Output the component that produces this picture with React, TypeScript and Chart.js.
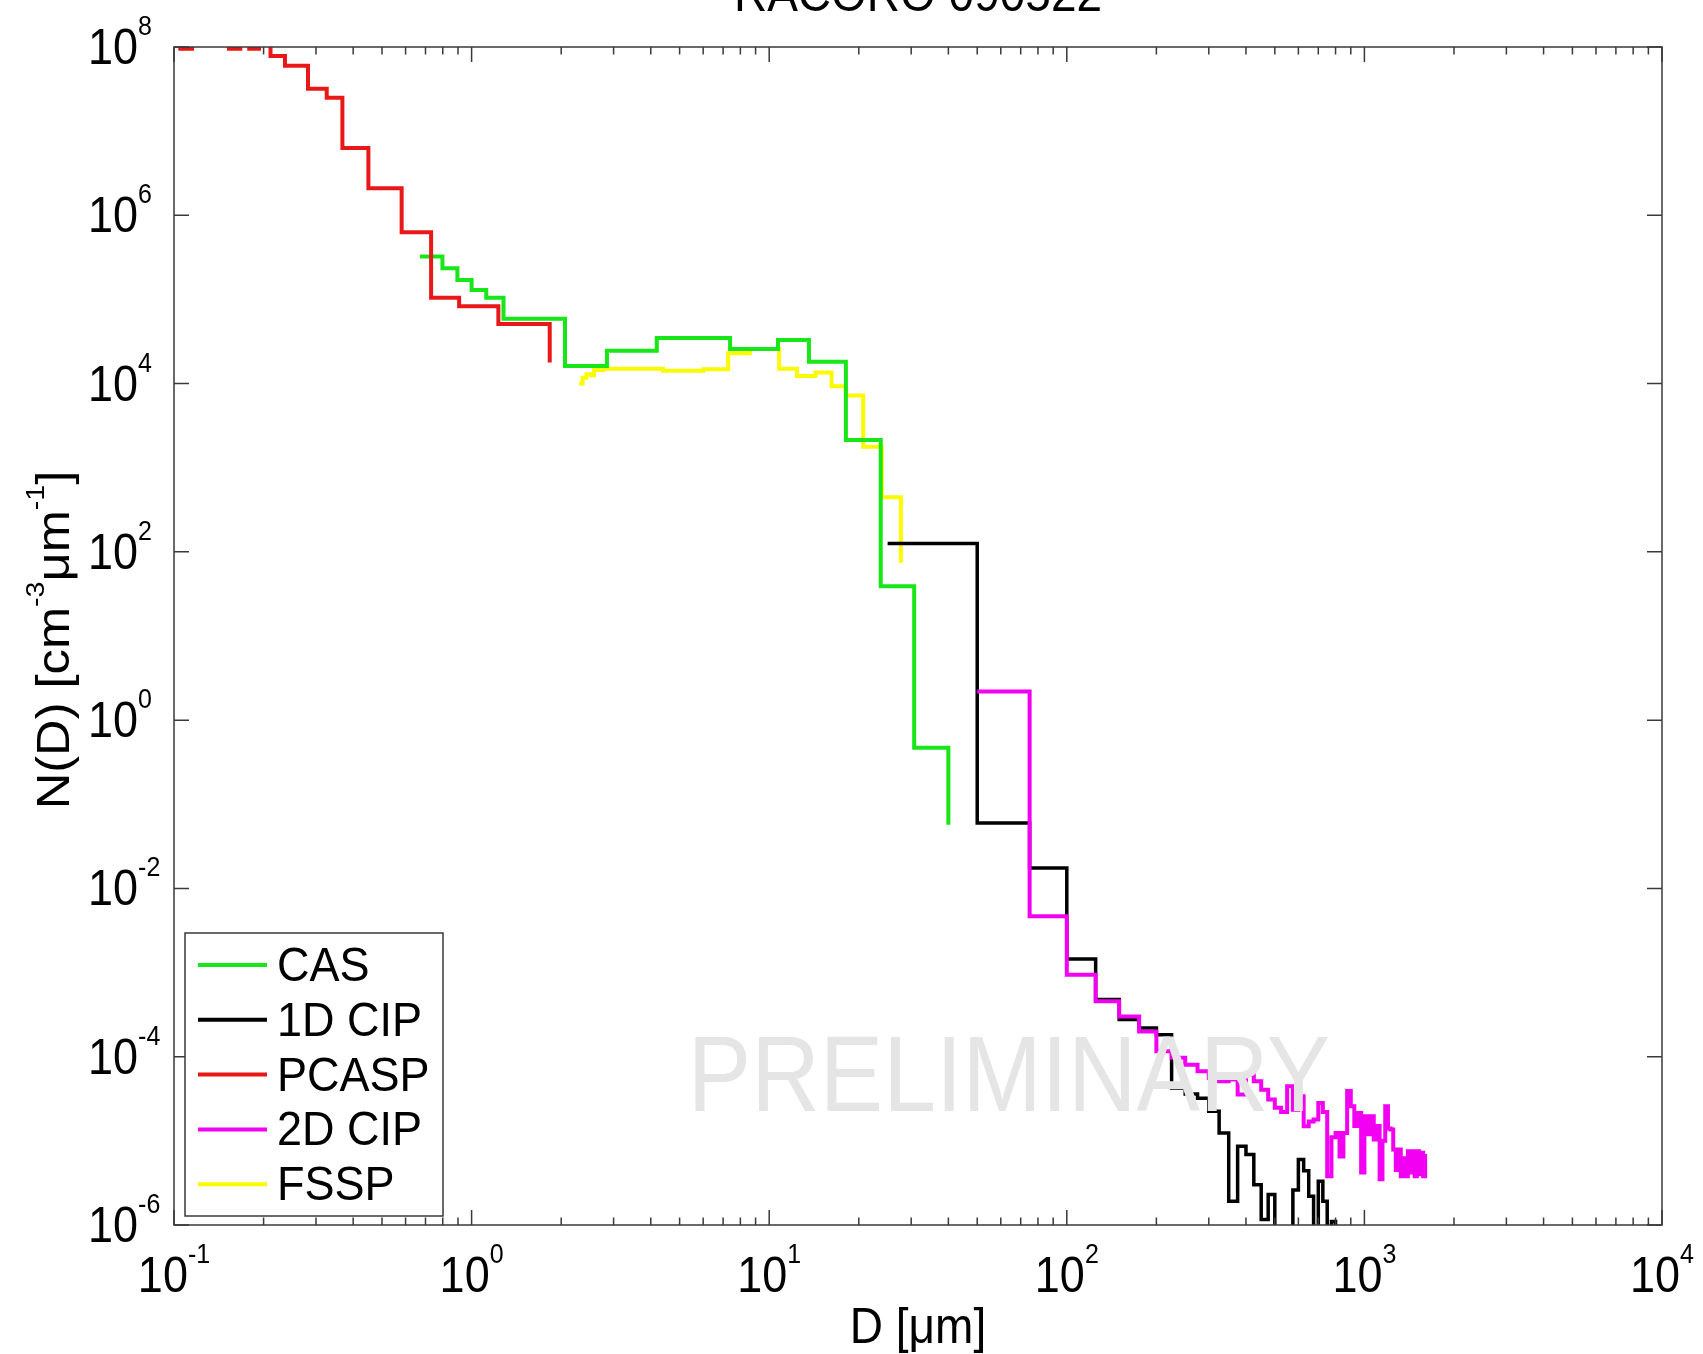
import React, { useEffect, useRef } from 'react';
import { Chart, registerables } from 'chart.js';

Chart.register(...registerables);

const W = 1703;
const H = 1354;
const FONT = '"Liberation Sans", Arial, Helvetica, sans-serif';

const TITLE = 'RACORO 090522';
const X_LABEL = 'D [\u03bcm]';

// PCASP (red)
const pcaspD = [0.1, 0.105, 0.115, 0.153, 0.167, 0.179, 0.193, 0.211, 0.236, 0.282, 0.326, 0.368, 0.45, 0.582, 0.731, 0.908, 1.23, 1.83];
const pcaspN = [1.3e8, 0.95e8, 1.3e8, 0.95e8, 1.2e8, 0.95e8, 1.1e8, 7.8e7, 6.0e7, 3.2e7, 2.5e7, 6.3e6, 2.1e6, 6.3e5, 1.05e5, 8.3e4, 5.1e4, 1.78e4];

// CAS (green)
const casD = [0.671, 0.798, 0.896, 1.0, 1.12, 1.28, 2.06, 2.85, 4.19, 7.39, 10.7, 13.6, 18.1, 23.7, 30.7, 40.0];
const casN = [3.24e5, 2.34e5, 1.7e5, 1.29e5, 1.05e5, 5.9e4, 1.62e4, 2.45e4, 3.47e4, 2.57e4, 3.3e4, 1.82e4, 2.14e3, 39, 0.47, 0.057];

// FSSP (yellow)
const fsspD = [2.3, 2.36, 2.43, 2.52, 2.58, 2.77, 4.4, 6.0, 7.28, 8.61, 10.8, 12.4, 14.3, 16.2, 18.1, 20.7, 23.9, 27.7];
const fsspN = [1.0e4, 1.17e4, 1.29e4, 1.26e4, 1.45e4, 1.5e4, 1.42e4, 1.48e4, 2.3e4, 2.57e4, 1.5e4, 1.23e4, 1.35e4, 9.3e3, 7.2e3, 1.78e3, 446, 74];

// 1D CIP (black)
const cip1D = [25, 50, 75, 100, 125, 150, 175, 200, 225, 250, 275, 300, 325, 350, 375, 400, 425, 450, 475, 500, 525, 550, 575, 600, 625, 650, 675, 700, 725, 750, 775, 800, 825];
const cip1N = [126, 0.06, 0.0175, 1.45e-3, 4.8e-4, 2.76e-4, 2.2e-4, 1.83e-4, 4.25e-5, 3.6e-5, 3.2e-5, 2.25e-5, 1.24e-5, 1.92e-6, 8.6e-6, 6.9e-6, 3.0e-6, 1.16e-6, 2.3e-6, 0.9e-6, 0.7e-6, 0.8e-6, 2.6e-6, 6.0e-6, 4.4e-6, 2.2e-6, 0.8e-6, 3.3e-6, 1.92e-6, 0.9e-6, 1.1e-6, 0.95e-6, 0.9e-6];

// 2D CIP (magenta)
const cip2D = [50, 75, 100, 125, 150, 175, 200, 225, 250, 275, 300, 325, 350, 375, 400, 425, 450, 475, 500, 525, 550, 575, 600, 625, 650, 675, 700, 725, 750, 775, 800, 825, 850, 875, 900, 925, 950, 975, 1000, 1025, 1050, 1075, 1100, 1125, 1150, 1175, 1200, 1225, 1250, 1275, 1300, 1325, 1350, 1375, 1400, 1425, 1450, 1475, 1500, 1525, 1550, 1575, 1600];
const cip2N = [2.19, 4.66e-3, 9.4e-4, 4.55e-4, 3.0e-4, 2.0e-4, 1.16e-4, 9.7e-5, 8.05e-5, 6.7e-5, 5.6e-5, 5.1e-5, 5.35e-5, 3.55e-5, 6.1e-5, 5.1e-5, 4.06e-5, 3.1e-5, 2.47e-5, 2.2e-5, 4.45e-5, 2.35e-5, 3.4e-5, 1.49e-5, 1.7e-5, 1.79e-5, 2.82e-5, 2.2e-5, 3.8e-6, 1.1e-5, 1.24e-5, 6.5e-6, 1.24e-5, 3.9e-5, 2.58e-5, 1.5e-5, 2.15e-5, 4.2e-6, 1.96e-5, 1.2e-5, 1.96e-5, 1.04e-5, 1.5e-5, 3.5e-6, 1.0e-5, 2.58e-5, 1.4e-5, 1.36e-5, 7.9e-6, 4.5e-6, 7.9e-6, 3.8e-6, 6.2e-6, 3.8e-6, 7.5e-6, 4.2e-6, 7.5e-6, 3.8e-6, 7.5e-6, 4.0e-6, 7.2e-6, 3.8e-6, 7.0e-6];

const xTickExps = [-1, 0, 1, 2, 3, 4];
const yTickExps = [-6, -4, -2, 0, 2, 4, 6, 8];

const legendLabels = ['CAS', '1D CIP', 'PCASP', '2D CIP', 'FSSP'];
const COLORS: Record<string, string> = {
  CAS: '#18e618',
  '1D CIP': '#000000',
  PCASP: '#e81818',
  '2D CIP': '#f200f2',
  FSSP: '#fafa00',
};

function drawText(ctx: CanvasRenderingContext2D, s: string, x: number, y: number, size: number, align: CanvasTextAlign, sy: number) {
  ctx.save();
  ctx.translate(x, y);
  ctx.scale(1, sy);
  ctx.font = `${size}px ${FONT}`;
  ctx.textAlign = align;
  ctx.textBaseline = 'alphabetic';
  ctx.fillText(s, 0, 0);
  ctx.restore();
}

function textWidth(ctx: CanvasRenderingContext2D, s: string, size: number) {
  ctx.save();
  ctx.font = `${size}px ${FONT}`;
  const w = ctx.measureText(s).width;
  ctx.restore();
  return w;
}

const AXIS_COLOR = '#3a3a3a';
const TICK_FS = 45;
const SUP_FS = 25;
const SY = 1.1;

const decor = {
  id: 'decor',
  afterDraw(chart: any) {
    const ctx: CanvasRenderingContext2D = chart.ctx;
    const a = chart.chartArea;
    const xs = chart.scales.x;
    const ys = chart.scales.y;

    // watermark over the data
    ctx.save();
    ctx.fillStyle = 'rgb(229,229,229)';
    drawText(ctx, 'PRELIMINARY', 1009, 1111, 95, 'center', 1.13);
    ctx.restore();

    // axes box and inward ticks
    ctx.save();
    ctx.strokeStyle = AXIS_COLOR;
    ctx.lineWidth = 1.5;
    ctx.strokeRect(a.left, a.top, a.right - a.left, a.bottom - a.top);
    ctx.beginPath();
    for (let e = xTickExps[0]; e <= xTickExps[xTickExps.length - 1]; e++) {
      for (let k = 1; k <= 9; k++) {
        const v = k * Math.pow(10, e);
        if (v > 10000 * 1.0001) break;
        const px = xs.getPixelForValue(v);
        const len = k === 1 ? 15 : 7.5;
        ctx.moveTo(px, a.bottom);
        ctx.lineTo(px, a.bottom - len);
        ctx.moveTo(px, a.top);
        ctx.lineTo(px, a.top + len);
      }
    }
    for (const e of yTickExps) {
      const py = ys.getPixelForValue(Math.pow(10, e));
      ctx.moveTo(a.left, py);
      ctx.lineTo(a.left + 15, py);
      ctx.moveTo(a.right, py);
      ctx.lineTo(a.right - 15, py);
    }
    ctx.stroke();
    ctx.restore();

    // tick labels
    ctx.save();
    ctx.fillStyle = '#000';
    const wb = textWidth(ctx, '10', TICK_FS);
    for (const e of xTickExps) {
      const px = xs.getPixelForValue(Math.pow(10, e));
      const sup = String(e);
      const we = textWidth(ctx, sup, SUP_FS);
      const start = px - (wb + we) / 2;
      drawText(ctx, '10', start, 1292, TICK_FS, 'left', SY);
      drawText(ctx, sup, start + wb, 1263, SUP_FS, 'left', SY);
    }
    for (const e of yTickExps) {
      const py = ys.getPixelForValue(Math.pow(10, e));
      drawText(ctx, '10', 88, py + 17, TICK_FS, 'left', SY);
      drawText(ctx, String(e), 88 + wb, py - 12, SUP_FS, 'left', SY);
    }

    // title and axis labels
    drawText(ctx, TITLE, (a.left + a.right) / 2, 11, 46, 'center', SY);
    drawText(ctx, X_LABEL, (a.left + a.right) / 2, 1343, 46, 'center', SY);

    // y label (rotated) with superscripts
    const parts = [
      { t: 'N(D) [cm', sup: false },
      { t: '-3', sup: true },
      { t: '\u03bcm', sup: false },
      { t: '-1', sup: true },
      { t: ']', sup: false },
    ];
    const LF = 46;
    const LS = 26;
    let total = 0;
    for (const p of parts) total += textWidth(ctx, p.t, p.sup ? LS : LF);
    ctx.save();
    ctx.translate(69, 640);
    ctx.rotate(-Math.PI / 2);
    ctx.scale(SY, 1);
    let cx = -total / 2;
    for (const p of parts) {
      ctx.font = `${p.sup ? LS : LF}px ${FONT}`;
      ctx.textAlign = 'left';
      ctx.textBaseline = 'alphabetic';
      ctx.fillText(p.t, cx, p.sup ? -25 : 0);
      cx += textWidth(ctx, p.t, p.sup ? LS : LF);
    }
    ctx.restore();
    ctx.restore();

    // legend
    ctx.save();
    const lx = 185, ly = 933, lw = 258, lh = 283;
    ctx.fillStyle = '#fff';
    ctx.fillRect(lx, ly, lw, lh);
    ctx.strokeStyle = AXIS_COLOR;
    ctx.lineWidth = 1.5;
    ctx.strokeRect(lx, ly, lw, lh);
    legendLabels.forEach((lab, i) => {
      const cy = 965 + i * 54.8;
      ctx.strokeStyle = COLORS[lab];
      ctx.lineWidth = 4;
      ctx.beginPath();
      ctx.moveTo(198, cy);
      ctx.lineTo(267, cy);
      ctx.stroke();
      ctx.fillStyle = '#000';
      drawText(ctx, lab, 277, cy + 16, 45, 'left', 1.06);
    });
    ctx.restore();
  },
};

function mk(label: string, xs: number[], ys: number[], width: number, order: number) {
  return {
    label,
    data: xs.map((x, i) => ({ x, y: ys[i] })),
    borderColor: COLORS[label],
    backgroundColor: COLORS[label],
    borderWidth: width,
    pointRadius: 0,
    pointHoverRadius: 0,
    stepped: 'before' as const,
    fill: false,
    clip: 0,
    borderJoinStyle: 'miter' as const,
    borderCapStyle: 'butt' as const,
    order,
  };
}

export default function App() {
  const ref = useRef<HTMLCanvasElement>(null);
  useEffect(() => {
    const canvas = ref.current;
    if (!canvas) return;
    const chart = new Chart(canvas, {
      type: 'line',
      data: {
        datasets: [
          mk('CAS', casD, casN, 4, 1),
          mk('1D CIP', cip1D, cip1N, 3.5, 3),
          mk('PCASP', pcaspD, pcaspN, 4, 0),
          mk('2D CIP', cip2D, cip2N, 4, 2),
          mk('FSSP', fsspD, fsspN, 4, 4),
        ] as any,
      },
      options: {
        animation: false,
        responsive: false,
        devicePixelRatio: 1,
        layout: { padding: { left: 174, right: 41, top: 47, bottom: 129 } },
        plugins: {
          legend: { display: false },
          tooltip: { enabled: false },
          title: { display: false },
        },
        events: [],
        scales: {
          x: { type: 'logarithmic', min: 0.1, max: 10000, display: false },
          y: { type: 'logarithmic', min: 1e-6, max: 1e8, display: false },
        },
      } as any,
      plugins: [decor],
    });
    return () => chart.destroy();
  }, []);
  return (
    <div style={{ position: 'fixed', left: 0, top: 0, width: W, height: H, background: '#fff' }}>
      <canvas ref={ref} width={W} height={H} style={{ display: 'block', width: W, height: H }} />
    </div>
  );
}
